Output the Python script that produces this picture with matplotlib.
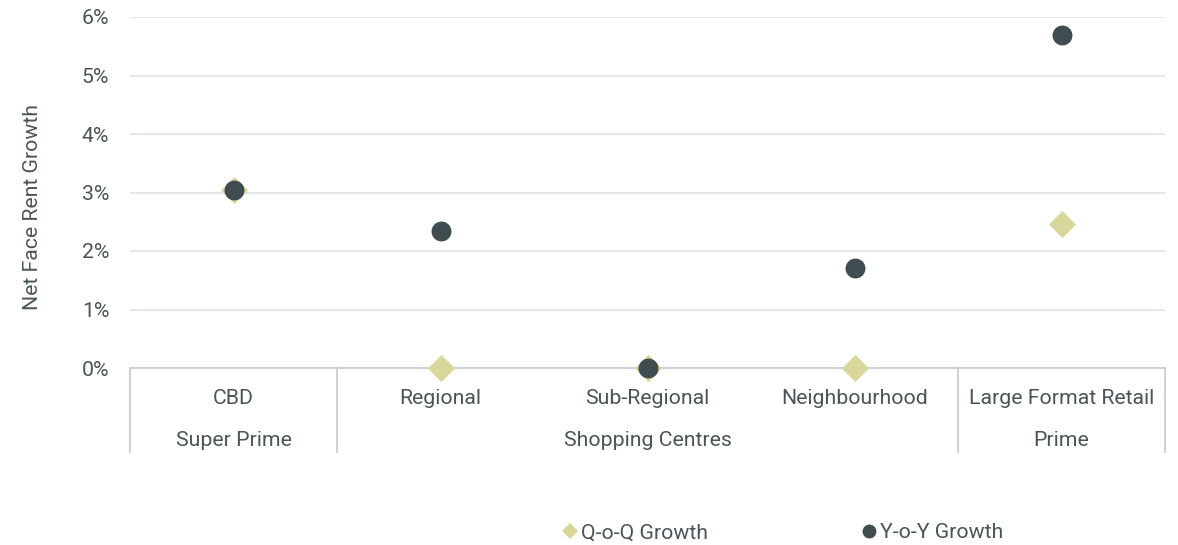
import matplotlib.pyplot as plt
from matplotlib.ticker import FuncFormatter
from matplotlib.lines import Line2D

# Donnees
categories = ["CBD", "Regional", "Sub-Regional", "Neighbourhood", "Large Format Retail"]
qoq_growth = [3.05, 0.0, 0.0, 0.0, 2.46]
yoy_growth = [3.05, 2.34, 0.0, 1.71, 5.69]
groups = ["Super Prime", "Shopping Centres", "Prime"]
group_spans = [(0, 0), (1, 3), (4, 4)]

c_qoq = "#d9d69c"
c_yoy = "#3f4d50"
c_text = "#4a5558"
fs = 15.3

plt.rcParams['font.family'] = ['Roboto', 'DejaVu Sans']

fig = plt.figure(figsize=(11.78, 5.45), dpi=100)
ax = fig.add_axes([130 / 1178, 1 - 368 / 545, 1035 / 1178, 351 / 545])

x = range(len(categories))
ax.scatter(x, qoq_growth, marker="D", s=190, color=c_qoq, zorder=3, linewidths=0, clip_on=False)
ax.scatter(x, yoy_growth, marker="o", s=205, color=c_yoy, zorder=4, linewidths=0, clip_on=False)

ax.set_xlim(-0.5, len(categories) - 0.5)
ax.set_ylim(0, 6)
ax.set_yticks(range(0, 7))
ax.yaxis.set_major_formatter(FuncFormatter(lambda v, p: f"{v:.0f}%"))
ax.grid(axis="y", color="#e3e6e6", lw=1.3)
ax.set_axisbelow(True)
for s in ["top", "right", "left"]:
    ax.spines[s].set_visible(False)
ax.spines["bottom"].set_color("#c9ced1")
ax.spines["bottom"].set_linewidth(1.3)
ax.tick_params(axis="both", length=0, labelsize=fs, colors=c_text)
ax.tick_params(axis="x", pad=15)
ax.set_xticks(list(x))
ax.set_xticklabels(categories)
ax.tick_params(axis="y", pad=15)
ax.set_ylabel("Net Face Rent Growth", fontsize=fs, color=c_text)
ax.yaxis.set_label_coords(-0.085, 0.459)

# separateurs de groupes sous l'axe
trans = ax.get_xaxis_transform()
for xs in [-0.5, 0.5, 3.5, 4.5]:
    ax.add_line(Line2D([xs, xs], [0, -84 / 351], transform=trans, color="#c9ced1",
                       lw=1.3, clip_on=False))
for g, (a, b) in zip(groups, group_spans):
    ax.text((a + b) / 2, -72 / 351, g, transform=trans, ha="center", va="center",
            fontsize=fs, color=c_text)

# legende
handles = [
    Line2D([], [], marker="D", ls="", color=c_qoq, markersize=8, markeredgewidth=0),
    Line2D([], [], marker="o", ls="", color=c_yoy, markersize=10, markeredgewidth=0),
]
leg = fig.legend(handles, ["Q-o-Q Growth", "Y-o-Y Growth"], loc="center",
                 bbox_to_anchor=(783 / 1178, 1 - 533 / 545), ncol=2, frameon=False,
                 fontsize=fs, handlelength=0.7, handletextpad=0.2, columnspacing=7.2)
for t in leg.get_texts():
    t.set_color(c_text)

fig.savefig("out.png", dpi=100)
